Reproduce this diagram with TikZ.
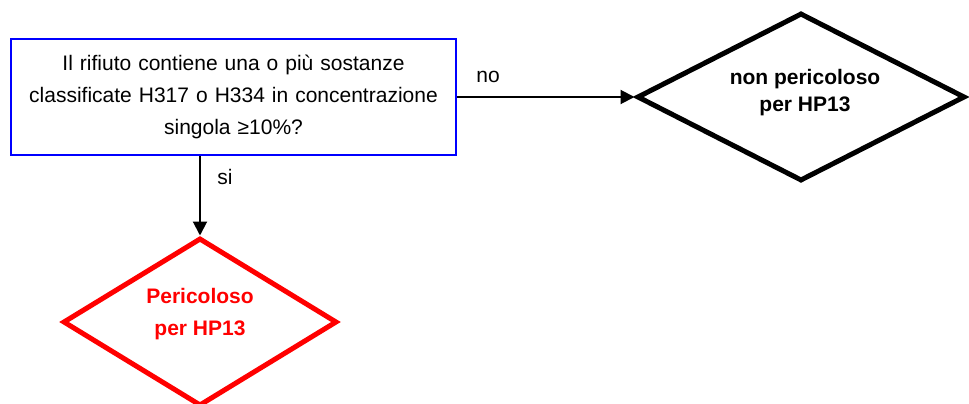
\documentclass[tikz,border=0pt]{standalone}
\usepackage{fontspec}
\setmainfont{Liberation Sans}
\usetikzlibrary{shapes.geometric,arrows.meta}
\definecolor{pureblue}{RGB}{0,0,255}
\definecolor{purered}{RGB}{255,0,0}
\begin{document}
\begin{tikzpicture}[x=1pt,y=-1pt,
  qbox/.style={draw=pureblue,line width=2pt,minimum width=445pt,minimum height=116pt,inner sep=0pt,align=center,text width=440pt,font=\fontsize{21}{32}\selectfont},
  endshape/.style={diamond,line width=5pt,inner sep=0pt},
  endtext/.style={align=center,font=\bfseries\fontsize{21}{27}\selectfont},
  conn/.style={line width=2pt,-{Triangle[length=14pt,width=14pt]}},
  lbl/.style={font=\fontsize{21}{25}\selectfont}
]
\useasboundingbox (0,0) rectangle (969,404);
\node[qbox] (q) at (233.5,97) {Il rifiuto contiene una o più sostanze\\classificate H317 o H334 in concentrazione\\singola ≥10\%?};
\node[endshape,draw=black,minimum width=328pt,minimum height=168pt] (np) at (801,97) {};
\node[endtext] (npt) at (805,93) {non pericoloso\\per HP13};
\node[endshape,draw=purered,minimum width=274pt,minimum height=168pt] (p) at (200,322) {};
\node[endtext,text=purered,font=\bfseries\fontsize{21}{32}\selectfont] (pt) at (200,314) {Pericoloso\\per HP13};
\draw[conn] (q.east) -- (np.west);
\draw[conn] (q.south -| p.north) -- (p.north);
\node[lbl] (no) at (488,77) {no};
\node[lbl] (si) at (225,177) {si};
\end{tikzpicture}
\end{document}
